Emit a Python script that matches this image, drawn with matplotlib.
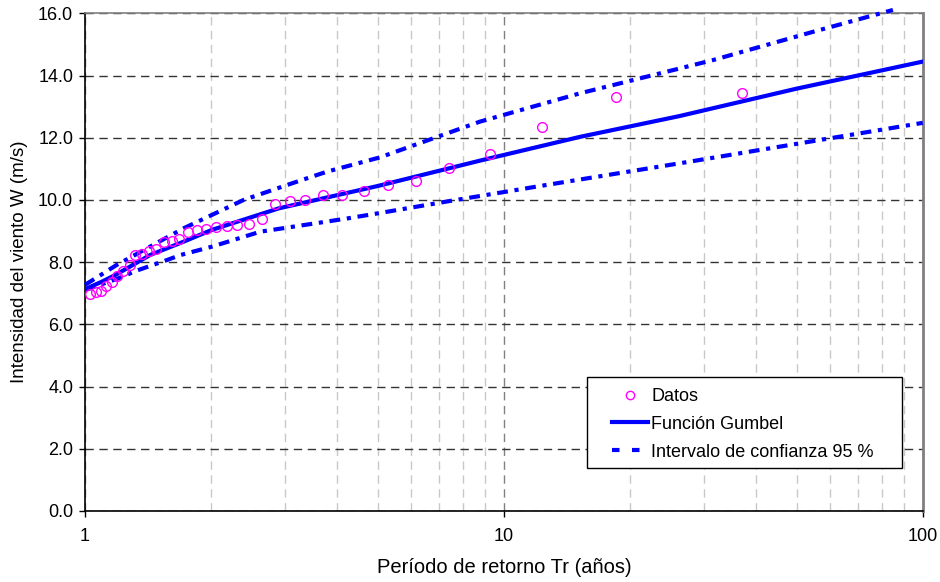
import matplotlib
matplotlib.use("Agg")
import matplotlib.pyplot as plt
from matplotlib.lines import Line2D
from matplotlib.patches import Rectangle
from matplotlib.ticker import FixedLocator, NullFormatter

plt.rcParams['font.family'] = ['Liberation Sans', 'DejaVu Sans']

# Observed data (return period, wind speed)
datos_tr = [1.03, 1.06, 1.09, 1.12, 1.16, 1.19, 1.23, 1.28, 1.32, 1.37, 1.42, 1.48,
            1.54, 1.61, 1.68, 1.76, 1.85, 1.95, 2.06, 2.18, 2.31, 2.47, 2.64, 2.85,
            3.08, 3.36, 3.70, 4.11, 4.63, 5.29, 6.17, 7.40, 9.25, 12.33, 18.5, 37.0]
datos_w = [6.98, 7.04, 7.07, 7.24, 7.37, 7.56, 7.72, 7.91, 8.22, 8.27, 8.35, 8.41,
           8.64, 8.68, 8.75, 8.97, 9.03, 9.06, 9.12, 9.15, 9.21, 9.23, 9.39, 9.88,
           9.97, 10.00, 10.15, 10.15, 10.30, 10.47, 10.62, 11.03, 11.48, 12.36, 13.31, 13.43]

# Gumbel fit
gumbel_tr = [1.0, 1.1, 1.19, 1.43, 1.72, 2.01, 2.9, 5.0, 8.8, 15.2, 26.3, 50.0, 100.0]
gumbel_w = [7.13, 7.38, 7.61, 8.23, 8.66, 9.04, 9.73, 10.45, 11.27, 12.03, 12.70, 13.58, 14.45]

# 95 % confidence band
sup_tr = [1.0, 1.19, 1.43, 1.72, 2.39, 3.08, 3.78, 5.06, 8.77, 15.2, 26.3, 31.6, 54.8, 84.9]
sup_w = [7.27, 7.91, 8.50, 9.09, 10.00, 10.51, 10.91, 11.37, 12.52, 13.43, 14.23, 14.50, 15.41, 16.11]
inf_tr = [1.0, 1.23, 1.31, 1.57, 1.69, 2.01, 2.62, 4.2, 5.0, 7.3, 12.6, 26.3, 100.0]
inf_w = [7.10, 7.53, 7.70, 8.07, 8.23, 8.50, 8.98, 9.40, 9.57, 9.95, 10.48, 11.18, 12.48]

y_ticks = [0, 2, 4, 6, 8, 10, 12, 14, 16]
x_major = [1, 10, 100]
x_minor = [2, 3, 4, 5, 6, 7, 8, 9, 20, 30, 40, 50, 60, 70, 80, 90]

fig = plt.figure(figsize=(9.4, 5.82), dpi=100)
ax = fig.add_axes([0.0904, 0.122, 0.8912, 0.855])

blue = '#0000ff'
dashdot = (0, (2.6, 1.6, 1.0, 1.6))

ax.plot(datos_tr, datos_w, linestyle='none', marker='o', markersize=7,
        markerfacecolor='none', markeredgecolor='#ff00ff', markeredgewidth=1.0, zorder=4)
ax.plot(gumbel_tr, gumbel_w, color=blue, linewidth=3.0, zorder=3)
ax.plot(sup_tr, sup_w, color=blue, linewidth=3.0, linestyle=dashdot, zorder=3, clip_on=False)
ax.plot(inf_tr, inf_w, color=blue, linewidth=3.0, linestyle=dashdot, zorder=3)

ax.set_xscale('log')
ax.set_xlim(1, 100)
ax.set_ylim(0, 16)

ax.xaxis.set_major_locator(FixedLocator(x_major))
ax.set_xticklabels([str(v) for v in x_major])
ax.xaxis.set_minor_locator(FixedLocator(x_minor))
ax.xaxis.set_minor_formatter(NullFormatter())
ax.set_yticks(y_ticks)
ax.set_yticklabels(['%.1f' % v for v in y_ticks])

ax.tick_params(axis='both', which='major', labelsize=13, length=4.5, width=1,
               direction='out', color='black', pad=4)
ax.tick_params(axis='x', which='minor', length=0)
ax.tick_params(axis='x', which='major', pad=8)

# gridlines
ax.grid(axis='y', which='major', color='#333333', linestyle=(0, (6, 4)), linewidth=1.0)
ax.grid(axis='x', which='major', color='#808080', linestyle=(0, (6, 4)), linewidth=1.0)
ax.grid(axis='x', which='minor', color='#c8c8c8', linestyle=(0, (6, 4)), linewidth=1.0)
ax.set_axisbelow(True)

for side in ['left', 'bottom']:
    ax.spines[side].set_color('black')
    ax.spines[side].set_linewidth(1.2)
ax.spines['right'].set_color('#808080')
ax.spines['right'].set_linewidth(2.0)
ax.spines['top'].set_color('#808080')
ax.spines['top'].set_linewidth(1.2)

ax.set_xlabel('Período de retorno Tr (años)', fontsize=14.5, labelpad=9)
ax.set_ylabel('Intensidad del viento W (m/s)', fontsize=13.5, labelpad=7)

# legend with a plain rectangular frame
frame = Rectangle((0.5993, 0.087), 0.376, 0.1816, transform=ax.transAxes,
                  facecolor='white', edgecolor='black', linewidth=1.0, zorder=5)
ax.add_patch(frame)
handles = [
    Line2D([], [], linestyle='none', marker='o', markersize=6, markerfacecolor='none',
           markeredgecolor='#ff00ff', markeredgewidth=1.0),
    Line2D([], [], color=blue, linewidth=3.0),
    Line2D([], [], color=blue, linewidth=3.0, linestyle=(0, (1.8, 3.0))),
]
labels = ['Datos', 'Función Gumbel', 'Intervalo de confianza 95 %']
leg = ax.legend(handles, labels, loc='center left', bbox_to_anchor=(0.6287, 0.1744),
                fontsize=13, frameon=False, borderpad=0, borderaxespad=0,
                labelspacing=0.6, handlelength=2.0, handletextpad=0.2)
leg.set_zorder(6)

fig.savefig('out.png', dpi=100)
